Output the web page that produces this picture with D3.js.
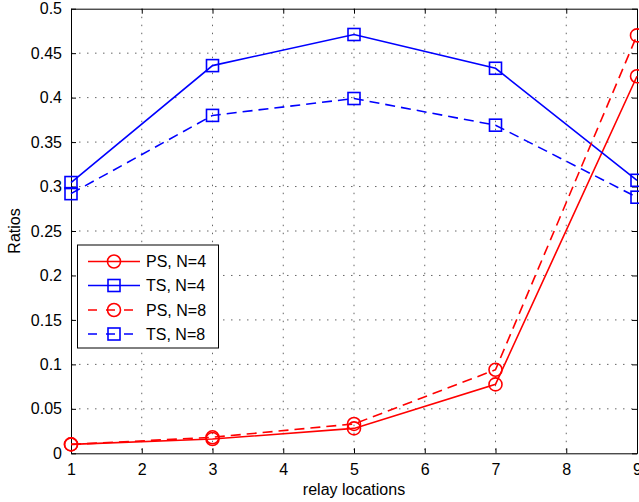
<!DOCTYPE html>
<html><head><meta charset="utf-8">
<script src="https://cdn.jsdelivr.net/npm/d3@7"></script>
<style>body{margin:0;background:#fff}svg{display:block}text{font-family:"Liberation Sans",Arial,sans-serif;fill:#000}</style>
</head><body><svg id="c" width="639" height="502"></svg>
<script>
const xValues = [1, 3, 5, 7, 9];
const psN4 = [0.010, 0.016, 0.028, 0.0775, 0.424];
const tsN4 = [0.3045, 0.436, 0.471, 0.433, 0.307];
const psN8 = [0.010, 0.018, 0.033, 0.094, 0.470];
const tsN8 = [0.292, 0.380, 0.399, 0.369, 0.288];
const xTicks = [1,2,3,4,5,6,7,8,9];
const yTicks = [0,0.05,0.1,0.15,0.2,0.25,0.3,0.35,0.4,0.45,0.5];
const yTickLabels = ["0","0.05","0.1","0.15","0.2","0.25","0.3","0.35","0.4","0.45","0.5"];
const seriesNames = ["PS, N=4","TS, N=4","PS, N=8","TS, N=8"];

const series = [
  {name: seriesNames[0], values: psN4, color: "#ff0000", dash: null, marker: "circle"},
  {name: seriesNames[1], values: tsN4, color: "#0000ff", dash: null, marker: "square"},
  {name: seriesNames[2], values: psN8, color: "#ff0000", dash: "10,6", marker: "circle"},
  {name: seriesNames[3], values: tsN8, color: "#0000ff", dash: "10,6", marker: "square"}
];

const L = 71, R = 637, T = 8.7, B = 453.3;
const svg = d3.select("#c");
const x = d3.scaleLinear().domain([1, 9]).range([L, R]);
const y = d3.scaleLinear().domain([0, 0.5]).range([B, T]);

// grid
const g = svg.append("g");
g.selectAll(".gx").data(xTicks.slice(1, -1)).join("line")
  .attr("x1", d => x(d)).attr("x2", d => x(d)).attr("y1", T).attr("y2", B)
  .attr("stroke", "#666").attr("stroke-width", 1).attr("stroke-dasharray", "1.5,6.5");
g.selectAll(".gy").data(yTicks.slice(1, -1)).join("line")
  .attr("y1", d => y(d)).attr("y2", d => y(d)).attr("x1", L).attr("x2", R)
  .attr("stroke", "#666").attr("stroke-width", 1).attr("stroke-dasharray", "1.5,6.5");

// axes
const fs = "16px";
const xb = svg.append("g").attr("transform", `translate(0,${B})`)
  .call(d3.axisBottom(x).tickValues(xTicks).tickSizeInner(-5).tickSizeOuter(0).tickPadding(10).tickFormat(d3.format("d")));
const xt = svg.append("g").attr("transform", `translate(0,${T})`)
  .call(d3.axisTop(x).tickValues(xTicks).tickSizeInner(-5).tickSizeOuter(0).tickFormat(""));
const yl = svg.append("g").attr("transform", `translate(${L},0)`)
  .call(d3.axisLeft(y).tickValues(yTicks).tickSizeInner(-5).tickSizeOuter(0).tickPadding(9).tickFormat((d,i) => yTickLabels[i]));
const yr = svg.append("g").attr("transform", `translate(${R},0)`)
  .call(d3.axisRight(y).tickValues(yTicks).tickSizeInner(-5).tickSizeOuter(0).tickFormat(""));
[xb, xt, yl, yr].forEach(a => {
  a.select(".domain").attr("stroke", "#000").attr("stroke-width", 1);
  a.selectAll(".tick line").attr("stroke", "#000");
  a.selectAll("text").style("font-size", fs).attr("fill", "#000").style("font-family", '"Liberation Sans",Arial,sans-serif');
});
xb.selectAll("text").attr("dy", "0.71em");

// lines
const line = d3.line().x((d, i) => x(xValues[i])).y(d => y(d));
series.forEach(s => {
  svg.append("path").datum(s.values).attr("d", line)
    .attr("fill", "none").attr("stroke", s.color).attr("stroke-width", 1.6)
    .attr("stroke-dasharray", s.dash);
});
function drawMarker(sel, type, cx, cy, color) {
  if (type === "circle") {
    sel.append("circle").attr("cx", cx).attr("cy", cy).attr("r", 6.5)
      .attr("fill", "none").attr("stroke", color).attr("stroke-width", 1.6);
  } else {
    sel.append("rect").attr("x", cx - 6).attr("y", cy - 6).attr("width", 12).attr("height", 12)
      .attr("fill", "none").attr("stroke", color).attr("stroke-width", 1.6);
  }
}
series.forEach(s => {
  s.values.forEach((v, i) => drawMarker(svg, s.marker, x(xValues[i]), y(v), s.color));
});

// legend
const lg = svg.append("g");
lg.append("rect").attr("x", 77.5).attr("y", 245).attr("width", 141).attr("height", 103)
  .attr("fill", "#fff").attr("stroke", "#000").attr("stroke-width", 1);
const rowsY = [261.5, 285.5, 310, 334];
series.forEach((s, i) => {
  const yy = rowsY[i];
  lg.append("line").attr("x1", 88).attr("x2", 140).attr("y1", yy).attr("y2", yy)
    .attr("stroke", s.color).attr("stroke-width", 1.6).attr("stroke-dasharray", s.dash ? "9,9" : null);
  drawMarker(lg, s.marker, 114, yy, s.color);
  lg.append("text").attr("x", 146).attr("y", yy).attr("dy", "0.36em").style("font-size", fs).text(s.name);
});

// labels
svg.append("text").attr("x", 354).attr("y", 495).attr("text-anchor", "middle").style("font-size", fs).text("relay locations");
svg.append("text").attr("transform", "translate(20,231) rotate(-90)").attr("text-anchor", "middle").style("font-size", fs).text("Ratios");
</script></body></html>
